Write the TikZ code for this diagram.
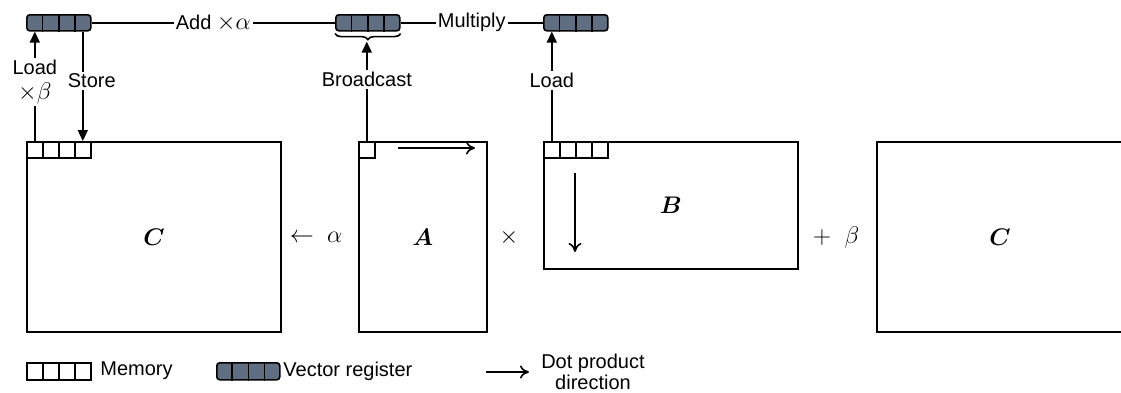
\documentclass[tikz,border=0pt]{standalone}
\usepackage{amsmath,bm}
\usepackage{fontspec}
\setmainfont{Liberation Sans}
\usetikzlibrary{arrows.meta,positioning,calc,decorations.pathreplacing}
\definecolor{RegFill}{RGB}{95,110,128}
\newcommand{\lblmath}[1]{{\fontsize{12}{12.5}\selectfont$#1$}}

\begin{document}
\begin{tikzpicture}[x=0.5pt,y=-0.5pt,
    mat/.style={draw,line width=0.9pt,inner sep=0pt,anchor=north west,
                font=\large},
    mem/.style={draw,line width=0.8pt,minimum width=8pt,minimum height=8pt,
                inner sep=0pt,anchor=north west},
    reg/.style={draw,line width=0.8pt,fill=RegFill,rounded corners=1.5pt,
                minimum width=32pt,minimum height=8pt,inner sep=0pt,
                anchor=north west},
    lbl/.style={fill=white,inner sep=1pt,align=center,
                font=\fontsize{10}{12.5}\selectfont},
    op/.style={font=\fontsize{12}{12.5}\selectfont},
    ldarr/.style={-{Triangle[length=5.5pt,width=5pt]},line width=0.8pt},
    dotarr/.style={-{To[length=4.5pt,width=6.5pt]},line width=0.8pt},
    ln/.style={line width=0.8pt}
  ]
  \useasboundingbox (0,0) rectangle (1121,392);
  \clip (0,0) rectangle (1121,392);

  % matrices
  \node[mat,minimum width=127pt,minimum height=95pt] (Cl) at (26,141) {$\bm{C}$};
  \node[mat,minimum width=64pt,minimum height=95pt] (A) at (358,141) {$\bm{A}$};
  \node[mat,minimum width=127pt,minimum height=63.5pt] (B) at (543,141) {$\bm{B}$};
  \node[mat,minimum width=140pt,minimum height=95pt] (Cr) at (876,141) {};
  \node[font=\large] (CrL) at (1000,237) {$\bm{C}$};

  % operators
  \node[op] (assign) at (316,237) {$\leftarrow\;\alpha$};
  \node[op] (times) at (509,237) {$\times$};
  \node[op] (plus) at (836,237) {$+\;\;\beta$};

  % memory cells
  \foreach \i in {0,...,3} {
    \node[mem] (cm\i) at ({26+16*\i},141) {};
    \node[mem] (bm\i) at ({543+16*\i},141) {};
  }
  \node[mem] (am) at (358,141) {};

  % vector registers
  \node[reg] (r1) at (26,14) {};
  \node[reg] (r2) at (335,14) {};
  \node[reg] (r3) at (543,14) {};
  \foreach \r in {r1,r2,r3}
    \foreach \k in {1,2,3}
      \draw[ln] ($(\r.north west)!\k/4!(\r.north east)$)
        -- ($(\r.south west)!\k/4!(\r.south east)$);

  % register ops
  \draw[ln] (r1.east) -- node[lbl] {Add \lblmath{\times\alpha}} (r2.west);
  \draw[ln] (r2.east) -- node[lbl] {Multiply} (r3.west);
  \draw[ln,decorate,decoration={brace,mirror,amplitude=3pt}]
    ([yshift=-1pt]r2.south west) -- ([yshift=-1pt]r2.south east);
  \coordinate (btip) at ([yshift=-5pt]r2.south);

  % loads and stores
  \draw[ldarr] (cm0.north) -- node[lbl,pos=0.54] {Load\\\lblmath{\times\beta}}
    (cm0.north |- r1.south);
  \draw[ldarr] (cm3.north |- r1.south) -- node[lbl,pos=0.45,xshift=4.5pt] {Store}
    (cm3.north);
  \draw[ldarr] (am.north) -- node[lbl,pos=0.62] {Broadcast}
    (am.north |- btip);
  \draw[ldarr] (bm0.north) -- node[lbl,pos=0.55] {Load}
    (bm0.north |- r3.south);

  % dot product directions
  \coordinate (ad0) at (398,148);
  \coordinate (ad1) at (475,148);
  \draw[dotarr] (ad0) -- (ad1);
  \coordinate (bd0) at (575,173);
  \coordinate (bd1) at (575,252);
  \draw[dotarr] (bd0) -- (bd1);

  % legend
  \foreach \i in {0,...,3}
    \node[mem,minimum height=8.5pt] (lm\i) at ({26+16*\i},362) {};
  \node[anchor=west,inner sep=0pt] (lmt) at (100,371) {Memory};
  \node[reg,minimum width=31.5pt,minimum height=8.5pt] (lr) at (216,362) {};
  \foreach \k in {1,2,3}
    \draw[ln] ($(lr.north west)!\k/4!(lr.north east)$)
      -- ($(lr.south west)!\k/4!(lr.south east)$);
  \node[anchor=west,inner sep=0pt] (lrt) at (283,371) {Vector register};
  \coordinate (ld0) at (486,372);
  \coordinate (ld1) at (529,372);
  \draw[dotarr] (ld0) -- (ld1);
  \node[align=center,font=\fontsize{10}{10.5}\selectfont] (ldt) at (593,372)
    {Dot product\\direction};
\end{tikzpicture}
\end{document}
